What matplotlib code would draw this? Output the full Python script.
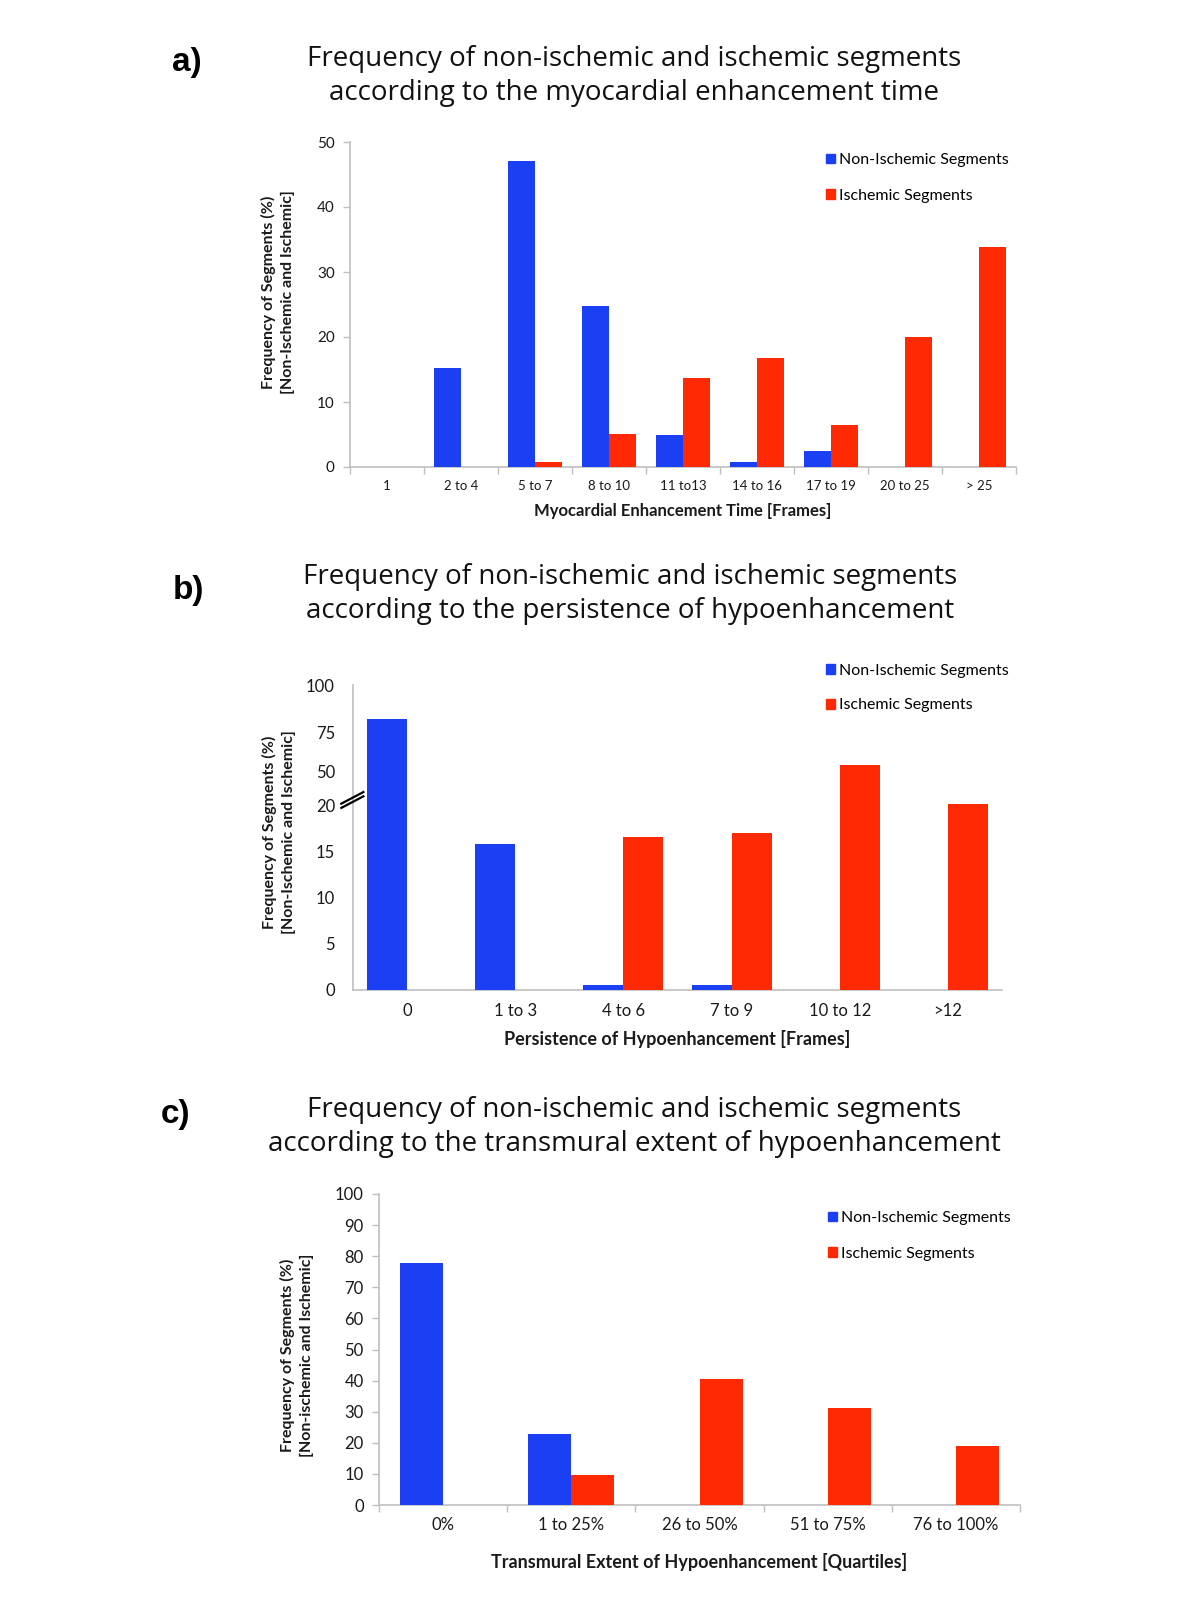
"""Frequency of non-ischemic and ischemic segments, three panels."""
import numpy as np
import matplotlib.pyplot as plt
from matplotlib.patches import Patch

W, H = 1200, 1599

BLUE = "#1B3FF2"
RED = "#FF2A04"
GREY = "#BFBFBF"
TEXT = "#1A1A1A"

AX_FONT = ["Lato", "DejaVu Sans"]
TITLE_FONT = ["Open Sans", "DejaVu Sans"]

# panel a
a_cats = ["1", "2 to 4", "5 to 7", "8 to 10", "11 to13", "14 to 16", "17 to 19", "20 to 25", "> 25"]
a_non = [0, 15.2, 47.1, 24.8, 5.0, 0.8, 2.45, 0, 0]
a_isch = [0, 0, 0.7, 5.1, 13.7, 16.7, 6.4, 20.0, 33.8]
a_yticks = [0, 10, 20, 30, 40, 50]

# panel b
b_cats = ["0", "1 to 3", "4 to 6", "7 to 9", "10 to 12", ">12"]
b_non = [82, 15.9, 0.5, 0.5, 0, 0]
b_isch = [0, 0, 16.6, 17.1, 54, 21.3]
b_yticks = [0, 5, 10, 15, 20, 50, 75, 100]
# broken axis: tick values and where they sit (in units of the 0-20 part)
b_break_vals = [0, 20, 50, 75, 100]
b_break_pos = [0, 20, 23.8, 28.04, 33.15]

# panel c
c_cats = ["0%", "1 to 25%", "26 to 50%", "51 to 75%", "76 to 100%"]
c_non = [77.7, 22.7, 0, 0, 0]
c_isch = [0, 9.8, 40.5, 31.3, 19.0]
c_yticks = list(range(0, 101, 10))

LEGEND_LABELS = ["Non-Ischemic Segments", "Ischemic Segments"]


def box(left, top, right, bottom):
    return [left / W, 1 - bottom / H, (right - left) / W, (bottom - top) / H]


def fx(x):
    return x / W


def fy(y):
    return 1 - y / H


fig = plt.figure(figsize=(W / 100, H / 100), dpi=100)


def draw_panel(rect, cats, non, isch, yticks, width, tick_size, cat_size, xlabel,
               cat_ticks=True):
    ax = fig.add_axes(rect)
    x = np.arange(len(cats))
    ax.bar(x - width / 2, non, width, color=BLUE, zorder=3)
    ax.bar(x + width / 2, isch, width, color=RED, zorder=3)
    ax.set_xlim(-0.5, len(cats) - 0.5)
    ax.set_xticks(x)
    ax.set_xticklabels(cats, fontsize=cat_size, family=AX_FONT, color=TEXT)
    ax.tick_params(axis="x", length=0, pad=9)
    if cat_ticks:
        ax.set_xticks(np.arange(len(cats) + 1) - 0.5, minor=True)
        ax.tick_params(axis="x", which="minor", length=5, color=GREY, width=1)
    ax.set_yticks(yticks)
    ax.set_yticklabels([str(t) for t in yticks], fontsize=tick_size, family=AX_FONT,
                       color=TEXT)
    ax.tick_params(axis="y", length=5, color=GREY, width=1, pad=6)
    for s in ("top", "right"):
        ax.spines[s].set_visible(False)
    for s in ("left", "bottom"):
        ax.spines[s].set_color(GREY)
        ax.spines[s].set_linewidth(1.2)
    ax.set_xlabel(xlabel, fontsize=tick_size + 1, fontweight="bold", family=AX_FONT,
                  color=TEXT)
    return ax


def titles(label, lx, ly, lines, cx, ty):
    fig.text(fx(lx), fy(ly), label, fontsize=24, fontweight="bold",
             family=["Liberation Sans", "DejaVu Sans"], ha="center", va="center")
    fig.text(fx(cx), fy(ty), lines, fontsize=20, family=TITLE_FONT, ha="center",
             va="center", linespacing=1.25, color="#111111")


def ylabel(text, cx, cy, size):
    fig.text(fx(cx), fy(cy), text, rotation=90, fontsize=size, fontweight="bold",
             family=AX_FONT, ha="center", va="center", linespacing=1.4, color=TEXT)


def legend(x, y, size, spacing):
    handles = [Patch(color=BLUE), Patch(color=RED)]
    fig.legend(handles, LEGEND_LABELS, loc="center left",
               bbox_to_anchor=(fx(x), fy(y)), frameon=False,
               prop={"family": AX_FONT, "size": size}, handlelength=0.55,
               handleheight=0.55, handletextpad=0.25, labelspacing=spacing,
               borderpad=0)


# ---- a)
titles("a)", 187, 62,
       "Frequency of non-ischemic and ischemic segments\naccording to the myocardial enhancement time",
       634, 76)
ax_a = draw_panel(box(350, 142, 1016, 467), a_cats, a_non, a_isch, a_yticks, 0.365,
                  11, 9.5, "Myocardial Enhancement Time [Frames]")
ax_a.set_ylim(0, 50)
ax_a.xaxis.labelpad = 8
ylabel("Frequency of Segments (%)\n[Non-Ischemic and Ischemic]", 278, 292, 11.5)
legend(818, 178, 11.5, 1.35)

# ---- b)
titles("b)", 188, 590,
       "Frequency of non-ischemic and ischemic segments\naccording to the persistence of hypoenhancement",
       630, 594)
ax_b = draw_panel(box(353, 685, 1002, 990), b_cats, b_non, b_isch, b_yticks, 0.37,
                  12, 12, "Persistence of Hypoenhancement [Frames]", cat_ticks=False)
ax_b.set_yscale("function",
                functions=(lambda v: np.interp(v, b_break_vals, b_break_pos),
                           lambda v: np.interp(v, b_break_pos, b_break_vals)))
ax_b.set_ylim(0, 100)
ax_b.set_yticks(b_yticks)
ax_b.set_yticklabels([str(t) for t in b_yticks], fontsize=12, family=AX_FONT, color=TEXT)
ax_b.yaxis.set_minor_locator(plt.NullLocator())
ax_b.tick_params(axis="y", length=0, pad=13)
ax_b.xaxis.labelpad = 8
# break marks on the y axis
for dy in (0.0, 0.014):
    ax_b.plot([-0.018, 0.016], [0.597 + dy, 0.635 + dy], transform=ax_b.transAxes,
              color="black", lw=1.6, clip_on=False, zorder=5)
ylabel("Frequency of Segments (%)\n[Non-Ischemic and Ischemic]", 279, 832, 11.5)
legend(818, 688, 11.5, 1.3)

# ---- c)
titles("c)", 176, 1114,
       "Frequency of non-ischemic and ischemic segments\naccording to the transmural extent of hypoenhancement",
       634, 1127)
ax_c = draw_panel(box(379, 1194, 1020, 1505), c_cats, c_non, c_isch, c_yticks, 0.336,
                  12, 12, "Transmural Extent of Hypoenhancement [Quartiles]")
ax_c.set_ylim(0, 100)
ax_c.xaxis.labelpad = 14
ylabel("Frequency of Segments (%)\n[Non-ischemic and Ischemic]", 297, 1355, 11.5)
legend(820, 1236, 11.5, 1.35)

fig.savefig("out.png", dpi=100, facecolor="white")
